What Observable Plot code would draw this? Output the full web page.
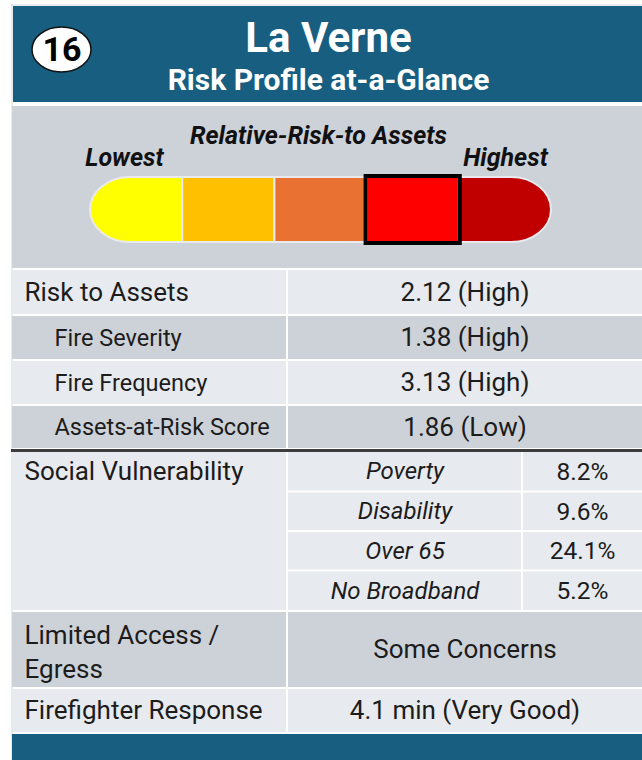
<!DOCTYPE html>
<html><head><meta charset="utf-8">
<script src="https://cdn.jsdelivr.net/npm/d3@7"></script>
<script src="https://cdn.jsdelivr.net/npm/@observablehq/plot@0.6"></script>
<style>html,body{margin:0;padding:0;background:#fff;}</style>
</head><body><div id="chart"></div>
<script>
// ---- data ----
const mapNumber = "16";
const placeName = "La Verne";
const subtitle = "Risk Profile at-a-Glance";
const gaugeTitle = "Relative-Risk-to Assets";
const gaugeEnds = ["Lowest", "Highest"];
const gaugeLevels = ["Lowest", "Low", "Moderate", "High", "Highest"];
const selectedLevel = "High";
const riskLabels = ["Risk to Assets", "Fire Severity", "Fire Frequency", "Assets-at-Risk Score"];
const riskScores = [2.12, 1.38, 3.13, 1.86];
const riskRatings = ["High", "High", "High", "Low"];
const socialTitle = "Social Vulnerability";
const socialLabels = ["Poverty", "Disability", "Over 65", "No Broadband"];
const socialValues = [8.2, 9.6, 24.1, 5.2];
const accessLabel = "Limited Access /\nEgress";
const accessValue = "Some Concerns";
const responseLabel = "Firefighter Response";
const responseMinutes = 4.1;
const responseRating = "Very Good";

// ---- layout & style ----
const W = 642, H = 760;
const BLUE = "#175e81", LIGHT = "#e7eaee", DARK = "#cdd2d9", INK = "#1c1c1c";
const gaugeColors = ["#ffff00", "#ffc000", "#e97132", "#ff0000", "#c00000"];
const L = {
  left: 12, right: 642, split: 287, subSplit: 522,
  header: [6, 102], panel: [106, 268],
  gauge: {x0: 90, x1: 551, y0: 177, y1: 242, capRx: 40},
  riskRows: [[270, 314], [316, 359], [361, 404], [406, 448]],
  rule: 450, social: [452, 610], access: [612, 687], response: [689, 732], footer: [734, 760]
};
const FONT = "Roboto";
const SIZE = {main: 26, sub: 23.5, value: 26, socialLabel: 24, socialValue: 24.5, gauge: 25};

const mid = r => (r[0] + r[1]) / 2;
const g = L.gauge, segW = (g.x1 - g.x0) / gaugeLevels.length;
const segs = gaugeLevels.map((level, i) => ({level, i, x1: g.x0 + i * segW, x2: g.x0 + (i + 1) * segW}));
const subH = (L.social[1] - L.social[0]) / socialLabels.length;
const socialRows = socialLabels.map((label, i) => ({label, value: socialValues[i],
  y1: L.social[0] + i * subH + (i ? 1 : 0), y2: L.social[0] + (i + 1) * subH - (i < socialLabels.length - 1 ? 1 : 0)}));

const rows = [
  ...L.riskRows.map((r, i) => ({y1: r[0], y2: r[1], dark: i % 2 === 1})),
  {y1: L.social[0], y2: L.social[1], dark: false},
  {y1: L.access[0], y2: L.access[1], dark: true},
  {y1: L.response[0], y2: L.response[1], dark: false}
];

const txt = {fontFamily: FONT, fill: INK};

const chart = Plot.plot({
  width: W, height: H, margin: 0,
  x: {domain: [0, W], range: [0, W], axis: null},
  y: {domain: [0, H], range: [0, H], axis: null},
  color: {domain: gaugeLevels, range: gaugeColors},
  style: {fontFamily: FONT, background: "#fff", overflow: "visible"},
  marks: [
    // outer frame
    Plot.ruleX([11.5], {y1: 4, y2: H, stroke: "#d5d7db", strokeWidth: 1}),
    Plot.ruleY([4.5], {x1: 11, x2: W, stroke: "#d5d7db", strokeWidth: 1}),
    // header
    Plot.rect([0], {x1: 13, x2: W, y1: L.header[0], y2: L.header[1], fill: BLUE}),
    Plot.rect([0], {x1: 32, x2: 91, y1: 27, y2: 72, rx: 29.5, ry: 22.5, fill: "#fff", stroke: "#111", strokeWidth: 1.5}),
    Plot.text([mapNumber], {x: 61.5, y: 49.5, text: d => d, fontSize: 34, fontWeight: 700, fontFamily: FONT, fill: "#000"}),
    Plot.text([placeName], {x: 328, y: 38, text: d => d, fontSize: 42, fontWeight: 700, fontFamily: FONT, fill: "#fff"}),
    Plot.text([subtitle], {x: 328, y: 80, text: d => d, fontSize: 30, fontWeight: 700, fontFamily: FONT, fill: "#fff"}),
    // gauge panel
    Plot.rect([0], {x1: L.left, x2: W, y1: L.panel[0], y2: L.panel[1], fill: DARK}),
    Plot.text([gaugeTitle], {x: 318, y: 135, text: d => d, fontSize: SIZE.gauge, fontWeight: 700, fontStyle: "italic", ...txt, fill: "#111"}),
    Plot.text(gaugeEnds, {x: (d, i) => i ? 505 : 124, y: 157, text: d => d, fontSize: SIZE.gauge, fontWeight: 700, fontStyle: "italic", ...txt, fill: "#111"}),
    Plot.rect(segs.filter(d => d.i === 0), {x1: "x1", x2: d => d.x2 + g.capRx, y1: g.y0, y2: g.y1, rx: g.capRx, ry: (g.y1 - g.y0) / 2, fill: "level", stroke: "#e8eaed", strokeWidth: 2}),
    Plot.rect(segs.filter(d => d.i === gaugeLevels.length - 1), {x1: d => d.x1 - g.capRx, x2: "x2", y1: g.y0, y2: g.y1, rx: g.capRx, ry: (g.y1 - g.y0) / 2, fill: "level", stroke: "#e8eaed", strokeWidth: 2}),
    Plot.rect(segs.filter(d => d.i > 0 && d.i < gaugeLevels.length - 1), {x1: "x1", x2: "x2", y1: g.y0, y2: g.y1, fill: "level", stroke: "#e8eaed", strokeWidth: 2}),
    Plot.rect(segs.filter(d => d.level === selectedLevel), {x1: "x1", x2: "x2", y1: g.y0, y2: g.y1, inset: -1, fill: "none", stroke: "#000", strokeWidth: 4}),
    // table rows
    Plot.rect(rows.filter(d => !d.dark), {x1: L.left, x2: L.split - 1, y1: "y1", y2: "y2", fill: LIGHT}),
    Plot.rect(rows.filter(d => d.dark), {x1: L.left, x2: L.split - 1, y1: "y1", y2: "y2", fill: DARK}),
    Plot.rect(rows.filter((d, i) => !d.dark && i !== 4), {x1: L.split + 1, x2: W, y1: "y1", y2: "y2", fill: LIGHT}),
    Plot.rect(rows.filter(d => d.dark), {x1: L.split + 1, x2: W, y1: "y1", y2: "y2", fill: DARK}),
    Plot.rect(socialRows, {x1: L.split + 1, x2: L.subSplit - 1, y1: "y1", y2: "y2", fill: LIGHT}),
    Plot.rect(socialRows, {x1: L.subSplit + 1, x2: W, y1: "y1", y2: "y2", fill: LIGHT}),
    Plot.ruleY([L.rule], {x1: L.left - 1, x2: W, stroke: "#3d3d3d", strokeWidth: 3}),
    // footer
    Plot.rect([0], {x1: L.left, x2: W, y1: L.footer[0], y2: L.footer[1], fill: BLUE}),
    // table text
    Plot.text(riskLabels, {x: (d, i) => i ? 54 : 24, y: (d, i) => mid(L.riskRows[i]), text: d => d,
      fontSize: (d, i) => i ? SIZE.sub : SIZE.main, textAnchor: "start", ...txt}),
    Plot.text(riskScores, {x: mid([L.split, W]), y: (d, i) => mid(L.riskRows[i]), text: (d, i) => `${d.toFixed(2)} (${riskRatings[i]})`,
      fontSize: SIZE.value, ...txt}),
    Plot.text([socialTitle], {x: 24, y: mid([socialRows[0].y1, socialRows[0].y2]), text: d => d, fontSize: SIZE.main, textAnchor: "start", ...txt}),
    Plot.text(socialRows, {x: mid([L.split, L.subSplit]), y: d => mid([d.y1, d.y2]), text: "label", fontSize: SIZE.socialLabel, fontStyle: "italic", ...txt}),
    Plot.text(socialRows, {x: mid([L.subSplit, W]), y: d => mid([d.y1, d.y2]), text: d => `${d.value.toFixed(1)}%`, fontSize: SIZE.socialValue, ...txt}),
    Plot.text([accessLabel], {x: 24, y: mid(L.access), text: d => d, fontSize: SIZE.main, lineHeight: 1.3, textAnchor: "start", ...txt}),
    Plot.text([accessValue], {x: mid([L.split, W]), y: mid(L.access), text: d => d, fontSize: SIZE.value, ...txt}),
    Plot.text([responseLabel], {x: 24, y: mid(L.response), text: d => d, fontSize: SIZE.main, textAnchor: "start", ...txt}),
    Plot.text([responseMinutes], {x: mid([L.split, W]), y: mid(L.response), text: d => `${d.toFixed(1)} min (${responseRating})`, fontSize: SIZE.value, ...txt})
  ]
});
document.getElementById("chart").append(chart);
</script>
</body></html>
